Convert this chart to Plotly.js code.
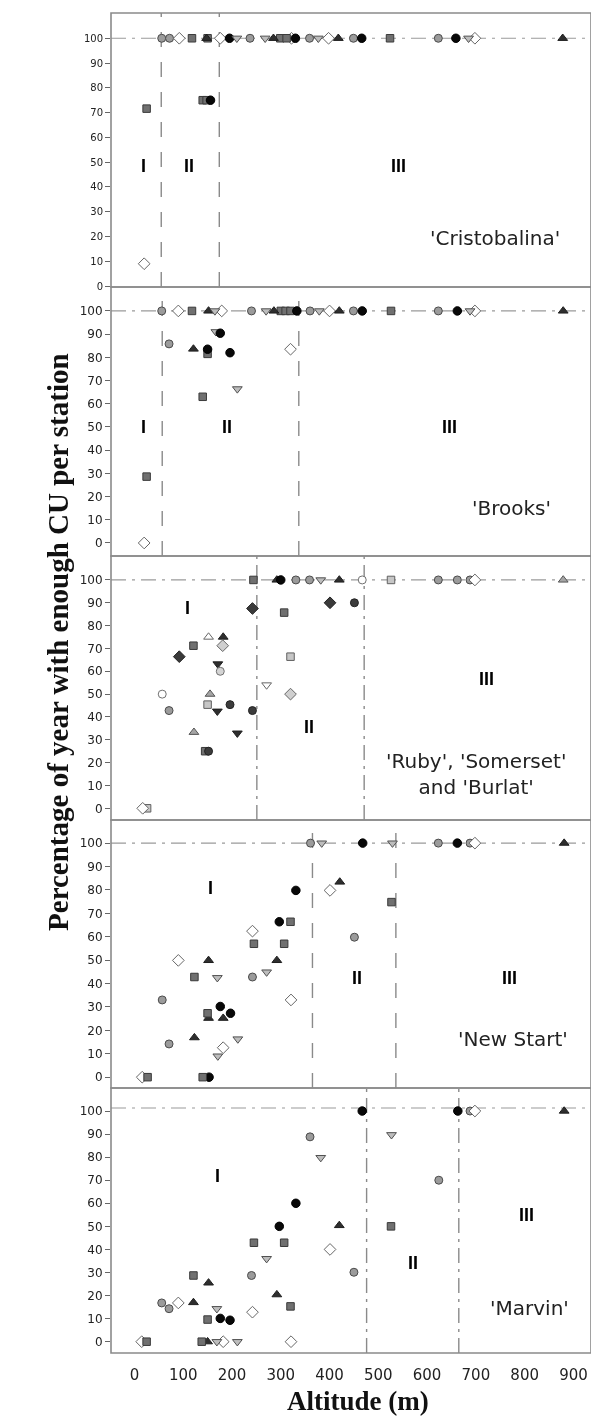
<!DOCTYPE html>
<html>
<head>
<meta charset="utf-8">
<script src="https://cdn.plot.ly/plotly-3.0.1.min.js"></script>
<style>html,body{margin:0;padding:0;background:#fff;}#chart{width:591px;height:1421px;}#chart svg{will-change:transform;}</style>
</head>
<body>
<div id="chart"></div>
<script>
// ---------- DATA (altitude in m, % of year with enough CU, station symbol group) ----------
const cultivars = ["'Cristobalina'", "'Brooks'", "'Ruby', 'Somerset'<br>and 'Burlat'", "'New Start'", "'Marvin'"];
const zoneLabels = ['I', 'II', 'III'];
const altTicks = [0, 100, 200, 300, 400, 500, 600, 700, 800, 900];
const pctTicks = [0, 10, 20, 30, 40, 50, 60, 70, 80, 90, 100];

// zone boundaries (altitude, m) per panel
const p1Bounds = [55, 174];
const p2Bounds = [57, 337];
const p3Bounds = [251, 471];
const p4Bounds = [365, 536];
const p5Bounds = [476, 665];

// Panel 1 – 'Cristobalina'
const p1Alt = [56, 72, 237, 359, 449, 623, 92, 176, 322, 398, 698, 118, 150, 299, 312, 524, 148, 285, 418, 878, 195, 330, 466, 659, 210, 268, 377, 685, 25, 140, 148, 156, 20];
const p1Pct = [100, 100, 100, 100, 100, 100, 100, 100, 100, 100, 100, 100, 100, 100, 100, 100, 100, 100, 100, 100, 100, 100, 100, 100, 100, 100, 100, 100, 71.6, 75, 75, 75, 9];
const p1Sym = ['gc', 'gc', 'gc', 'gc', 'gc', 'gc', 'od', 'od', 'od', 'od', 'od', 'gs', 'gs', 'gs', 'gs', 'gs', 'bt', 'bt', 'bt', 'bt', 'bc', 'bc', 'bc', 'bc', 'gv', 'gv', 'gv', 'gv', 'gs', 'gs', 'gs', 'bc', 'od'];

// Panel 2 – 'Brooks'
const p2Alt = [56, 240, 360, 449, 623, 90, 179, 400, 698, 118, 300, 310, 320, 526, 152, 286, 420, 879, 165, 270, 379, 688, 333, 467, 662, 71, 121, 150, 196, 176, 150, 140, 25, 167, 211, 320, 20];
const p2Pct = [100, 100, 100, 100, 100, 100, 100, 100, 100, 100, 100, 100, 100, 100, 100, 100, 100, 100, 100, 100, 100, 100, 100, 100, 100, 85.8, 83.6, 83.5, 82, 90.4, 81.5, 63, 28.6, 91, 66.4, 83.5, 0];
const p2Sym = ['gc', 'gc', 'gc', 'gc', 'gc', 'od', 'od', 'od', 'od', 'gs', 'gs', 'gs', 'gs', 'gs', 'bt', 'bt', 'bt', 'bt', 'gv', 'gv', 'gv', 'gv', 'bc', 'bc', 'bc', 'gc', 'bt', 'bc', 'bc', 'bc', 'gs', 'gs', 'gs', 'gv', 'gv', 'od', 'od'];

// Panel 3 – 'Ruby', 'Somerset' and 'Burlat'
const p3Alt = [244, 526, 292, 300, 331, 359, 623, 662, 688, 382, 420, 467, 698, 879, 242, 401, 92, 307, 121, 145, 451, 196, 242, 152, 152, 182, 181, 320, 320, 150, 26, 171, 170, 211, 176, 271, 57, 155, 122, 71, 17];
const p3Pct = [100, 100, 100, 100, 100, 100, 100, 100, 100, 100, 100, 100, 100, 100, 87.5, 90, 66.4, 85.7, 71.2, 25, 90, 45.4, 42.8, 25, 75, 75, 71.2, 50, 66.4, 45.4, 0, 63.2, 42.5, 32.9, 60, 54, 50, 50, 33.3, 42.8, 0];
const p3Sym = ['gs', 'ls', 'bt', 'bc', 'gc', 'gc', 'gc', 'gc', 'gc', 'gv', 'bt', 'oc', 'od', 'gt', 'bd', 'bd', 'bd', 'gs', 'gs', 'gs', 'dc', 'dc', 'dc', 'dc', 'ot', 'bt', 'ld', 'ld', 'ls', 'ls', 'ls', 'bv', 'bv', 'bv', 'lc', 'ov', 'oc', 'gt', 'gt', 'gc', 'od'];

// Panel 4 – 'New Start'
const p4Alt = [361, 623, 688, 384, 529, 468, 662, 698, 881, 421, 152, 292, 152, 182, 123, 401, 242, 90, 321, 182, 16, 331, 297, 176, 197, 153, 527, 320, 245, 307, 123, 150, 140, 27, 451, 242, 57, 71, 271, 170, 212, 171];
const p4Pct = [100, 100, 100, 100, 100, 100, 100, 100, 100, 83.4, 49.9, 49.9, 25.2, 25.2, 16.9, 79.8, 62.4, 49.9, 33, 12.6, 0, 79.8, 66.4, 30.2, 27.3, 0, 74.8, 66.4, 57, 57, 42.8, 27.3, 0, 0, 59.8, 42.8, 33, 14.2, 44.9, 42.5, 16.3, 9];
const p4Sym = ['gc', 'gc', 'gc', 'gv', 'gv', 'bc', 'bc', 'od', 'bt', 'bt', 'bt', 'bt', 'bt', 'bt', 'bt', 'od', 'od', 'od', 'od', 'od', 'od', 'bc', 'bc', 'bc', 'bc', 'bc', 'gs', 'gs', 'gs', 'gs', 'gs', 'gs', 'gs', 'gs', 'gc', 'gc', 'gc', 'gc', 'gv', 'gv', 'gv', 'gv'];

// Panel 5 – 'Marvin'
const p5Alt = [467, 663, 688, 698, 881, 15, 182, 321, 90, 242, 401, 25, 138, 121, 150, 245, 307, 320, 526, 150, 121, 152, 292, 420, 169, 211, 169, 271, 382, 527, 56, 71, 240, 360, 450, 624, 176, 196, 297, 331];
const p5Pct = [100, 100, 100, 100, 100, 0, 0, 0, 16.8, 12.8, 40, 0, 0, 28.7, 9.6, 42.9, 42.9, 15.3, 50, 0, 17, 25.5, 20.4, 50.4, 0, 0, 14.3, 36, 79.8, 89.7, 16.8, 14.3, 28.7, 88.8, 30.1, 70, 10.1, 9.3, 50, 60];
const p5Sym = ['bc', 'bc', 'gc', 'od', 'bt', 'od', 'od', 'od', 'od', 'od', 'od', 'gs', 'gs', 'gs', 'gs', 'gs', 'gs', 'gs', 'gs', 'bt', 'bt', 'bt', 'bt', 'bt', 'gv', 'gv', 'gv', 'gv', 'gv', 'gv', 'gc', 'gc', 'gc', 'gc', 'gc', 'gc', 'bc', 'bc', 'bc', 'bc'];

// ---------- STYLES ----------
const styles = {
  gc: {symbol: 'circle', color: '#9b9b9b', line: '#4a4a4a', size: 8},
  bc: {symbol: 'circle', color: '#080808', line: '#000000', size: 8.5},
  dc: {symbol: 'circle', color: '#3c3c3c', line: '#222222', size: 8},
  oc: {symbol: 'circle', color: '#ffffff', line: '#707070', size: 8},
  lc: {symbol: 'circle', color: '#d4d4d4', line: '#707070', size: 8},
  gs: {symbol: 'square', color: '#707070', line: '#3a3a3a', size: 7.5},
  ls: {symbol: 'square', color: '#c6c6c6', line: '#606060', size: 7.5},
  bt: {symbol: 'triangle-up', color: '#2e2e2e', line: '#1e1e1e', size: 8.5},
  ot: {symbol: 'triangle-up', color: '#ffffff', line: '#666666', size: 8.5},
  gt: {symbol: 'triangle-up', color: '#a5a5a5', line: '#555555', size: 8.5},
  gv: {symbol: 'triangle-down', color: '#bdbdbd', line: '#505050', size: 8.5},
  bv: {symbol: 'triangle-down', color: '#2e2e2e', line: '#1e1e1e', size: 8.5},
  ov: {symbol: 'triangle-down', color: '#ffffff', line: '#666666', size: 8.5},
  od: {symbol: 'diamond', color: '#ffffff', line: '#666666', size: 9},
  bd: {symbol: 'diamond', color: '#3a3a3a', line: '#222222', size: 9},
  ld: {symbol: 'diamond', color: '#cfcfcf', line: '#666666', size: 9}
};

const panels = [
  {alt: p1Alt, pct: p1Pct, sym: p1Sym, bounds: p1Bounds},
  {alt: p2Alt, pct: p2Pct, sym: p2Sym, bounds: p2Bounds},
  {alt: p3Alt, pct: p3Pct, sym: p3Sym, bounds: p3Bounds},
  {alt: p4Alt, pct: p4Pct, sym: p4Sym, bounds: p4Bounds},
  {alt: p5Alt, pct: p5Pct, sym: p5Sym, bounds: p5Bounds}
];

// ---------- LAYOUT GEOMETRY ----------
const domains = [[0.7955, 1], [0.5948, 0.7955], [0.3978, 0.5948], [0.1978, 0.3978], [0, 0.1978]];
const ranges = [[-0.4, 110.2], [-5.6, 110.3], [-5.1, 110.5], [-4.6, 109.9], [-4.9, 110]];
const refY = [100, 100, 100, 100, 101.3];
const boundDash = ['longdash', 'longdash', 'longdashdot', 'longdash', 'longdashdot'];
const romanPos = [
  [[18.6, 48.4], [112, 48.4], [542, 48.4]],
  [[18, 50], [190, 50], [645, 50]],
  [[108, 87.8], [358, 35.8], [722, 56.8]],
  [[155, 81], [456, 42.5], [768, 42.5]],
  [[170, 71.7], [571, 34], [803, 55]]
];
const cultPos = [[739, 19.4], [772, 15], [700, 15], [776, 16.3], [809, 14.8]];

const traces = [];
const shapes = [];
const annotations = [];
const layout = {
  width: 591, height: 1421,
  margin: {l: 111, r: 0, t: 13, b: 68},
  paper_bgcolor: 'rgba(255,255,255,0)', plot_bgcolor: 'rgba(255,255,255,0)',
  showlegend: false,
  font: {family: 'DejaVu Sans, Arial, sans-serif', color: '#222'},
  xaxis: {
    anchor: 'y5', domain: [0, 1], range: [-48, 936],
    tickmode: 'array', tickvals: altTicks, ticktext: altTicks.map(String),
    ticks: 'outside', ticklen: 8, tickcolor: 'rgba(0,0,0,0)',
    tickfont: {size: 15, family: 'DejaVu Sans, Arial, sans-serif', color: '#222'},
    showgrid: false, zeroline: false, showline: false
  }
};

panels.forEach((p, i) => {
  const yName = i === 0 ? 'y' : 'y' + (i + 1);
  const axKey = i === 0 ? 'yaxis' : 'yaxis' + (i + 1);
  layout[axKey] = {
    domain: domains[i], range: ranges[i], anchor: 'x',
    tickmode: 'array', tickvals: pctTicks, ticktext: pctTicks.map(String),
    ticks: 'outside', ticklen: 5, tickcolor: '#666', tickwidth: 1,
    tickfont: {size: i === 0 ? 10 : 12, family: 'DejaVu Sans, Arial, sans-serif', color: '#222'},
    showgrid: false, zeroline: false, showline: false
  };
  // panel frame
  shapes.push({type: 'rect', xref: 'paper', yref: yName + ' domain', x0: 0, x1: 1, y0: 0, y1: 1,
    line: {color: '#8a8a8a', width: 1.6}, layer: 'above'});
  // 100% reference line
  shapes.push({type: 'line', xref: 'paper', yref: yName, x0: 0, x1: 1, y0: refY[i], y1: refY[i],
    line: {color: '#9a9a9a', width: 1.2, dash: 'longdashdot'}, layer: 'below'});
  // zone boundaries
  p.bounds.forEach(b => {
    shapes.push({type: 'line', xref: 'x', yref: yName + ' domain', x0: b, x1: b, y0: 0, y1: 1,
      line: {color: '#8a8a8a', width: 1.4, dash: boundDash[i]}, layer: 'below'});
  });
  // markers grouped by symbol
  const groups = {};
  p.sym.forEach((s, k) => {
    if (!groups[s]) groups[s] = {x: [], y: []};
    groups[s].x.push(p.alt[k]);
    groups[s].y.push(p.pct[k]);
  });
  Object.keys(groups).forEach(s => {
    const st = styles[s];
    traces.push({
      type: 'scatter', mode: 'markers', x: groups[s].x, y: groups[s].y,
      xaxis: 'x', yaxis: yName, cliponaxis: false, hoverinfo: 'x+y',
      marker: {symbol: st.symbol, size: st.size, color: st.color, line: {color: st.line, width: 1}}
    });
  });
  // zone labels
  zoneLabels.forEach((z, k) => {
    annotations.push({xref: 'x', yref: yName, x: romanPos[i][k][0], y: romanPos[i][k][1], text: '<b>' + z + '</b>',
      showarrow: false, font: {size: 18, family: 'Liberation Sans, Arial, sans-serif', color: '#000'}});
  });
  // cultivar label
  annotations.push({xref: 'x', yref: yName, x: cultPos[i][0], y: cultPos[i][1], text: cultivars[i],
    showarrow: false, font: {size: 20, family: 'DejaVu Sans, Arial, sans-serif', color: '#222'}});
});

// axis titles
annotations.push({xref: 'paper', yref: 'paper', x: -0.148, y: 0.5306, textangle: -90,
  text: '<b>Percentage of year with enough CU per station</b>', showarrow: false,
  font: {size: 29, family: 'Liberation Serif, Times New Roman, serif', color: '#111'}});
annotations.push({xref: 'paper', yref: 'paper', x: 0.515, y: -0.0355, yanchor: 'middle',
  text: '<b>Altitude (m)</b>', showarrow: false,
  font: {size: 27, family: 'Liberation Serif, Times New Roman, serif', color: '#111'}});

layout.shapes = shapes;
layout.annotations = annotations;

Plotly.newPlot('chart', traces, layout, {displayModeBar: false, staticPlot: true});
</script>
</body>
</html>
